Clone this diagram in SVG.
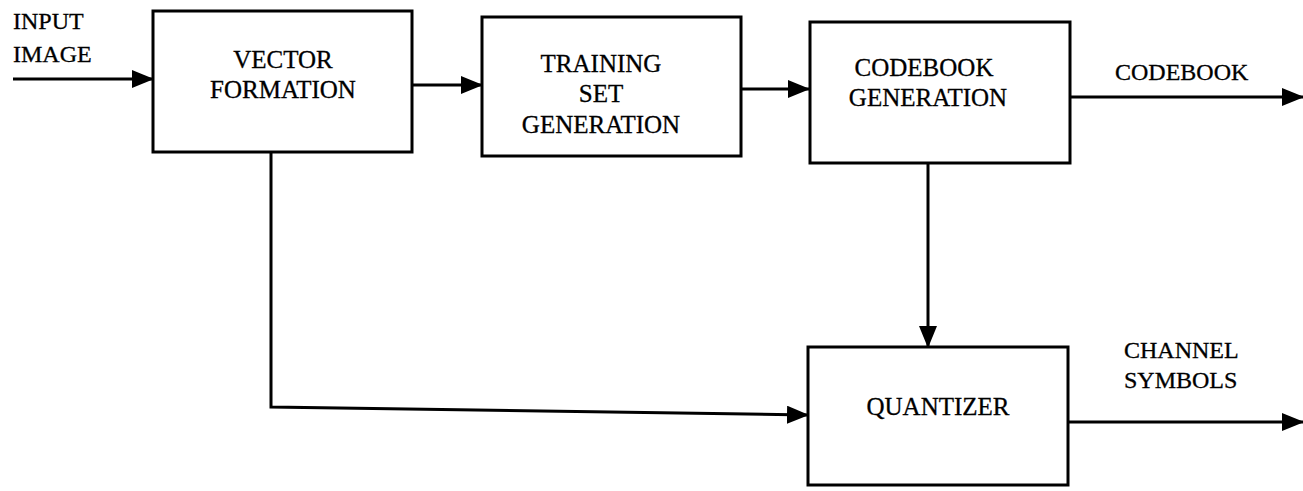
<svg xmlns="http://www.w3.org/2000/svg" width="1303" height="491" viewBox="0 0 1303 491">
<style>
.box{fill:#fff;stroke:#000;stroke-width:3}
.t{font-family:"Liberation Serif","Times New Roman",serif;font-size:25px;fill:#000;stroke:#000;stroke-width:0.3;text-anchor:middle}
.l{font-family:"Liberation Serif","Times New Roman",serif;font-size:24px;fill:#000;stroke:#000;stroke-width:0.3}
.c{fill:none;stroke:#000;stroke-width:3}
</style>
<defs>
<marker id="ah" markerWidth="22" markerHeight="18" refX="21" refY="9" orient="auto" markerUnits="userSpaceOnUse">
<path d="M0,0 L22,9 L0,18 Z" fill="#000"/>
</marker>
</defs>
<rect width="1303" height="491" fill="#fff"/>
<g id="connectors">
<line class="c" x1="13" y1="79" x2="153" y2="79" marker-end="url(#ah)"/>
<line class="c" x1="412" y1="85" x2="482" y2="85" marker-end="url(#ah)"/>
<line class="c" x1="741" y1="89" x2="809" y2="89" marker-end="url(#ah)"/>
<line class="c" x1="1070" y1="97" x2="1303" y2="97" marker-end="url(#ah)"/>
<line class="c" x1="928" y1="163" x2="928" y2="347" marker-end="url(#ah)"/>
<polyline class="c" points="271,152 271,407 808,415" marker-end="url(#ah)"/>
<line class="c" x1="1068" y1="422" x2="1303" y2="422" marker-end="url(#ah)"/>
<text class="l" x="13" y="29">INPUT</text>
<text class="l" x="13" y="62">IMAGE</text>
<text class="l" x="1115" y="80">CODEBOOK</text>
<text class="l" x="1124" y="358">CHANNEL</text>
<text class="l" x="1124" y="388">SYMBOLS</text>
</g>
<g id="vector-formation">
<rect class="box" x="153" y="11" width="259" height="141"/>
<text class="t" x="283" y="68">VECTOR</text>
<text class="t" x="283" y="98">FORMATION</text>
</g>
<g id="training-set">
<rect class="box" x="482" y="17" width="259" height="139"/>
<text class="t" x="601" y="72">TRAINING</text>
<text class="t" x="601" y="102">SET</text>
<text class="t" x="601" y="133">GENERATION</text>
</g>
<g id="codebook-generation">
<rect class="box" x="810" y="22" width="260" height="141"/>
<text class="t" x="924" y="76">CODEBOOK</text>
<text class="t" x="928" y="106">GENERATION</text>
</g>
<g id="quantizer">
<rect class="box" x="808" y="347" width="260" height="138"/>
<text class="t" x="938" y="415">QUANTIZER</text>
</g>
</svg>
